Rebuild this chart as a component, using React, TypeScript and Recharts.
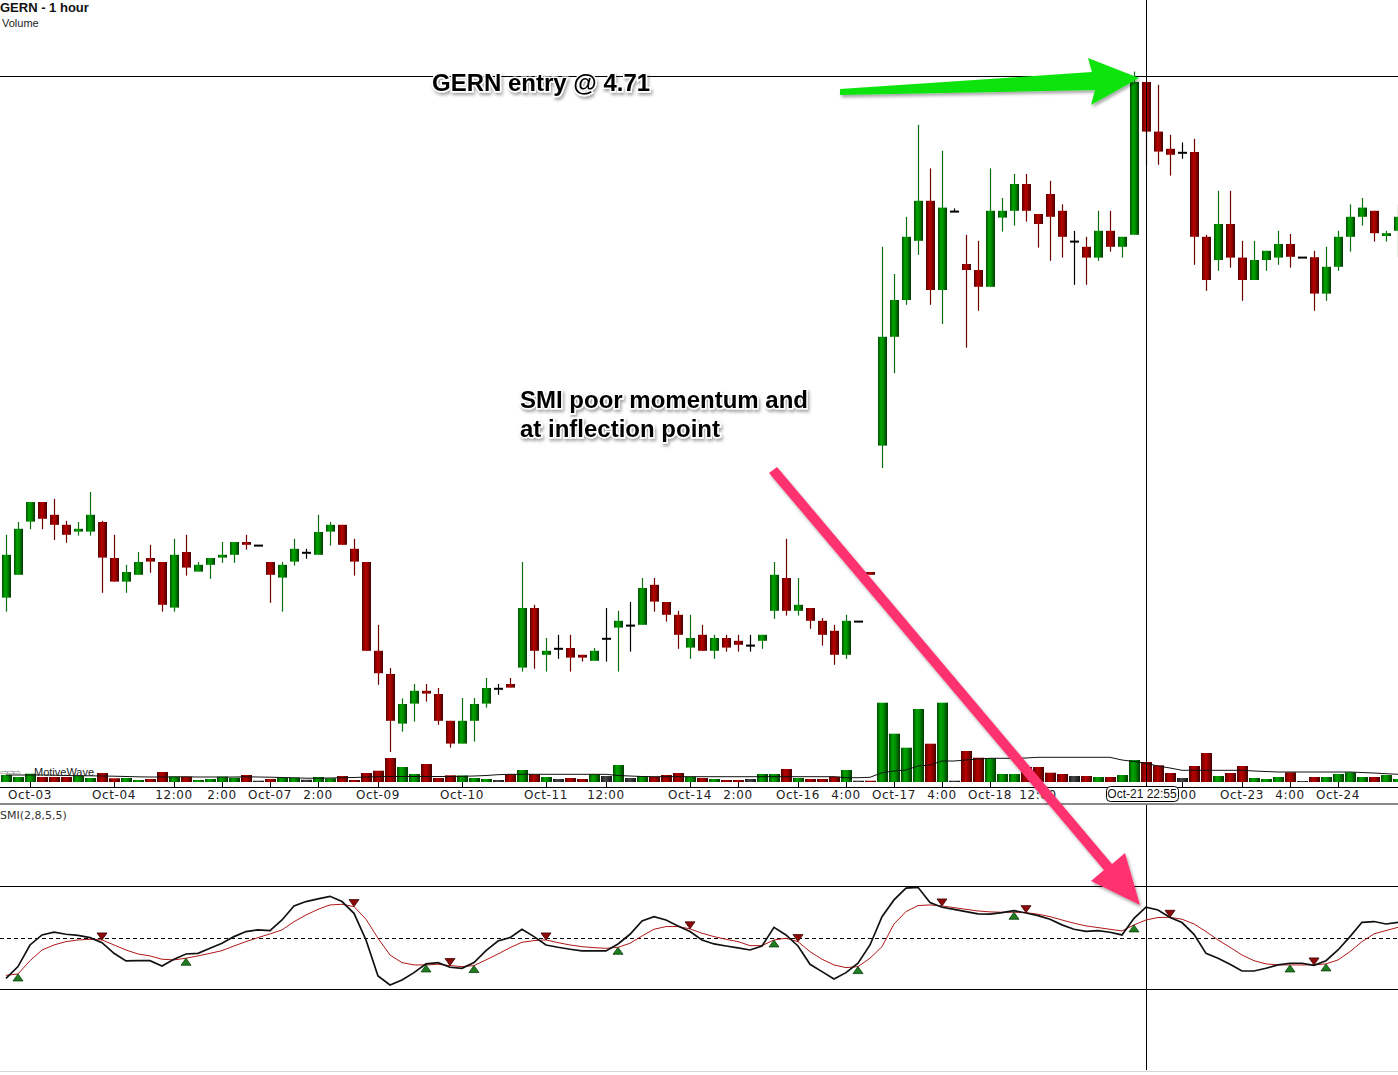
import { ComposedChart, Bar, Line, XAxis, YAxis, ReferenceLine, Cell } from 'recharts'

// hourly OHLC (price scale anchored on the 4.71 entry line)
const OPEN = [
  3.406, 3.463, 3.596, 3.645, 3.613, 3.588, 3.571, 3.571, 3.595, 3.505,
  3.446, 3.463, 3.505, 3.495, 3.381, 3.520, 3.471, 3.488, 3.506, 3.513,
  3.545, 3.536, 3.495, 3.456, 3.496, 3.518, 3.513, 3.571, 3.588, 3.528,
  3.495, 3.273, 3.215, 3.091, 3.141, 3.173, 3.165, 3.098, 3.041, 3.098,
  3.141, 3.178, 3.190, 3.231, 3.380, 3.263, 3.278, 3.280, 3.263, 3.248,
  3.303, 3.331, 3.336, 3.338, 3.438, 3.395, 3.363, 3.281, 3.313, 3.273,
  3.305, 3.298, 3.286, 3.298, 3.373, 3.455, 3.373, 3.380, 3.348, 3.323,
  3.263, 3.346, 3.470, 3.786, 4.058, 4.150, 4.298, 4.398, 4.175, 4.371,
  4.240, 4.225, 4.183, 4.356, 4.373, 4.440, 4.365, 4.415, 4.373, 4.296,
  4.283, 4.256, 4.323, 4.283, 4.313, 4.695, 4.571, 4.528, 4.518, 4.520,
  4.308, 4.250, 4.340, 4.256, 4.200, 4.250, 4.256, 4.290, 4.256, 4.257,
  4.166, 4.233, 4.308, 4.358, 4.373, 4.310, 4.323,
]
const HIGH = [
  3.563, 3.595, 3.645, 3.645, 3.653, 3.598, 3.595, 3.670, 3.598, 3.563,
  3.488, 3.520, 3.538, 3.495, 3.553, 3.563, 3.495, 3.505, 3.545, 3.545,
  3.563, 3.536, 3.495, 3.495, 3.553, 3.528, 3.613, 3.595, 3.588, 3.553,
  3.495, 3.338, 3.230, 3.154, 3.190, 3.190, 3.180, 3.098, 3.155, 3.155,
  3.205, 3.190, 3.205, 3.495, 3.388, 3.305, 3.313, 3.313, 3.263, 3.280,
  3.380, 3.373, 3.395, 3.455, 3.455, 3.395, 3.373, 3.363, 3.338, 3.313,
  3.313, 3.313, 3.313, 3.313, 3.495, 3.553, 3.455, 3.380, 3.355, 3.338,
  3.363, 3.346, 3.470, 4.283, 4.215, 4.358, 4.588, 4.479, 4.523, 4.379,
  4.313, 4.298, 4.479, 4.405, 4.465, 4.465, 4.365, 4.448, 4.389, 4.323,
  4.308, 4.373, 4.373, 4.308, 4.721, 4.695, 4.688, 4.563, 4.544, 4.553,
  4.313, 4.423, 4.423, 4.298, 4.298, 4.273, 4.323, 4.315, 4.256, 4.273,
  4.283, 4.323, 4.389, 4.405, 4.373, 4.323, 4.389,
]
const LOW = [
  3.371, 3.463, 3.577, 3.577, 3.550, 3.543, 3.561, 3.561, 3.418, 3.446,
  3.418, 3.463, 3.468, 3.371, 3.371, 3.461, 3.471, 3.453, 3.493, 3.493,
  3.526, 3.536, 3.393, 3.371, 3.486, 3.503, 3.513, 3.536, 3.538, 3.461,
  3.273, 3.188, 3.020, 3.071, 3.096, 3.146, 3.088, 3.031, 3.041, 3.046,
  3.131, 3.163, 3.181, 3.221, 3.228, 3.221, 3.253, 3.221, 3.246, 3.248,
  3.246, 3.221, 3.271, 3.338, 3.371, 3.346, 3.278, 3.253, 3.273, 3.253,
  3.271, 3.271, 3.271, 3.278, 3.353, 3.361, 3.361, 3.328, 3.286, 3.238,
  3.253, 3.346, 3.463, 3.730, 3.967, 4.138, 4.263, 4.138, 4.090, 4.371,
  4.031, 4.123, 4.183, 4.321, 4.336, 4.346, 4.281, 4.248, 4.256, 4.188,
  4.188, 4.248, 4.271, 4.256, 4.313, 4.488, 4.488, 4.461, 4.503, 4.238,
  4.173, 4.223, 4.231, 4.148, 4.200, 4.223, 4.238, 4.231, 4.256, 4.123,
  4.148, 4.223, 4.271, 4.336, 4.296, 4.296, 4.256,
]
const CLOSE = [
  3.513, 3.578, 3.645, 3.603, 3.588, 3.563, 3.578, 3.613, 3.506, 3.446,
  3.470, 3.495, 3.496, 3.388, 3.513, 3.481, 3.488, 3.505, 3.513, 3.545,
  3.538, 3.536, 3.463, 3.488, 3.528, 3.518, 3.570, 3.588, 3.538, 3.496,
  3.273, 3.217, 3.098, 3.140, 3.173, 3.166, 3.098, 3.041, 3.098, 3.140,
  3.180, 3.178, 3.181, 3.380, 3.273, 3.273, 3.278, 3.256, 3.256, 3.273,
  3.303, 3.348, 3.336, 3.430, 3.396, 3.363, 3.313, 3.305, 3.273, 3.305,
  3.281, 3.288, 3.286, 3.313, 3.463, 3.373, 3.388, 3.348, 3.313, 3.263,
  3.348, 3.346, 3.463, 4.058, 4.150, 4.308, 4.398, 4.175, 4.381, 4.371,
  4.225, 4.183, 4.373, 4.373, 4.440, 4.373, 4.340, 4.358, 4.308, 4.296,
  4.256, 4.323, 4.283, 4.308, 4.695, 4.571, 4.521, 4.513, 4.518, 4.308,
  4.200, 4.340, 4.256, 4.200, 4.250, 4.273, 4.290, 4.258, 4.256, 4.166,
  4.233, 4.308, 4.358, 4.381, 4.317, 4.317, 4.358,
]

// volume and its moving average, thousands of shares
const VOLUME = [
  140, 100, 166, 100, 100, 100, 126, 80, 180, 74,
  80, 40, 60, 200, 106, 106, 40, 60, 106, 86,
  140, 26, 60, 86, 86, 46, 100, 74, 120, 40,
  180, 226, 480, 300, 160, 360, 80, 134, 130, 80,
  60, 40, 154, 240, 154, 100, 60, 80, 60, 154,
  120, 340, 80, 120, 106, 140, 180, 106, 80, 60,
  40, 40, 60, 160, 160, 260, 80, 60, 60, 106,
  240, 26, 26, 1586, 966, 686, 1460, 766, 1586, 26,
  620, 486, 474, 160, 160, 300, 300, 186, 160, 120,
  120, 100, 100, 140, 440, 400, 334, 180, 80, 320,
  580, 120, 180, 320, 80, 60, 100, 194, 20, 100,
  100, 160, 194, 100, 100, 140, 60,
]
const VOL_MA = [
  140, 140, 140, 140, 136, 130, 126, 124, 120, 116,
  110, 104, 100, 100, 104, 104, 100, 100, 100, 100,
  104, 100, 96, 90, 84, 76, 76, 80, 86, 90,
  100, 106, 110, 110, 110, 110, 110, 110, 114, 120,
  130, 146, 154, 154, 154, 154, 154, 154, 154, 154,
  154, 130, 120, 110, 106, 106, 106, 106, 106, 106,
  106, 106, 106, 106, 106, 106, 106, 106, 106, 106,
  86, 86, 94, 186, 220, 240, 320, 340, 420, 420,
  440, 460, 474, 474, 474, 480, 494, 494, 494, 494,
  494, 494, 494, 440, 410, 374, 320, 280, 234, 234,
  234, 234, 234, 234, 220, 210, 200, 200, 200, 200,
  200, 200, 200, 190, 180, 166, 154,
]

// SMI(2,8,5,5) and its signal line
const SMI = [
  -31.1, -22.0, -5.2, 2.6, 4.7, 3.1, 2.3, 0.5, -3.4, -11.7,
  -17.6, -17.4, -17.4, -21.5, -16.3, -12.2, -11.7, -7.8, -3.9, 1.3,
  5.2, 6.5, 6.0, 14.2, 25.1, 28.5, 30.6, 32.6, 28.5, 19.4,
  -1.3, -29.3, -36.3, -32.4, -26.7, -19.9, -18.9, -22.5, -23.3, -18.9,
  -9.6, -2.1, 0.5, 7.0, 1.3, -5.2, -7.0, -8.5, -9.8, -9.8,
  -9.8, -4.4, 3.1, 13.5, 16.8, 14.2, 9.6, 5.2, -1.3, -4.4,
  -6.0, -7.5, -9.1, -6.0, 8.5, 2.6, -6.0, -20.2, -25.9, -31.6,
  -26.7, -19.4, -5.2, 16.8, 29.8, 38.9, 39.6, 27.7, 24.1, 22.5,
  20.7, 18.9, 18.7, 19.9, 21.5, 19.6, 17.6, 14.8, 10.4, 7.0,
  5.4, 6.0, 4.7, 2.6, 15.5, 24.1, 22.0, 16.1, 12.2, 3.1,
  -11.7, -15.5, -20.2, -25.4, -25.4, -23.3, -20.7, -19.4, -19.4, -21.0,
  -17.4, -9.1, 1.3, 12.4, 13.0, 11.1, 12.4,
]
const SIGNAL = [
  -28.8, -27.7, -17.4, -9.1, -5.2, -2.6, -1.3, -0.8, -1.3, -5.2,
  -9.1, -12.2, -13.7, -16.3, -16.8, -15.5, -13.7, -11.7, -9.6, -6.0,
  -2.6, 0.5, 3.4, 6.5, 12.9, 18.1, 22.5, 25.9, 26.4, 24.6,
  14.8, 0.0, -13.0, -18.9, -20.7, -20.7, -20.2, -21.2, -22.0, -21.2,
  -16.8, -12.2, -7.3, -3.1, -1.8, -1.3, -3.4, -5.2, -6.5, -7.3,
  -7.8, -7.0, -3.9, 1.8, 7.0, 9.1, 9.1, 7.3, 3.9, 1.3,
  -0.8, -2.6, -5.7, -5.7, -1.3, 0.0, -2.6, -10.4, -16.3, -20.7,
  -22.8, -22.0, -15.5, -6.5, 11.1, 20.7, 25.4, 25.9, 25.1, 23.8,
  22.5, 21.2, 20.5, 20.2, 20.2, 19.9, 18.7, 16.8, 14.2, 11.7,
  9.6, 8.3, 7.0, 5.7, 10.4, 14.2, 16.1, 16.3, 14.8, 11.1,
  5.2, -1.3, -7.0, -13.0, -17.4, -19.9, -20.7, -20.7, -20.7, -20.7,
  -19.9, -16.8, -10.4, -2.6, 3.4, 6.0, 8.5,
]
const UP_CROSS = [1, 15, 35, 39, 51, 64, 71, 84, 94, 107, 110]
const DOWN_CROSS = [8, 29, 37, 45, 57, 66, 78, 85, 97, 109]

const TICK_IDX = [2, 9, 14, 18, 22, 26, 31, 38, 45, 50, 57, 61, 66, 70, 74, 78, 82, 86, 98, 103, 107, 111]
const TICK_LABELS = [
  'Oct-03', 'Oct-04', '12:00', '2:00', 'Oct-07', '2:00', 'Oct-09', 'Oct-10', 'Oct-11', '12:00', 'Oct-14',
  '2:00', 'Oct-16', '4:00', 'Oct-17', '4:00', 'Oct-18', '12:00', '4:00', 'Oct-23', '4:00', 'Oct-24',
]

const ENTRY_PRICE = 4.71
const CURSOR_IDX = 95
const PRICE_DOMAIN: [number, number] = [2.9325, 4.9]
const VOL_DOMAIN: [number, number] = [-100, 15640]
const SMI_DOMAIN: [number, number] = [-102.3, 103.5]

const W = 1404
const NO_MARGIN = { top: 0, right: 0, bottom: 0, left: 0 }

const rows = OPEN.map((open, i) => ({
  i,
  open,
  high: HIGH[i],
  low: LOW[i],
  close: CLOSE[i],
  range: [LOW[i], HIGH[i]],
  vol: VOLUME[i],
  volMA: VOL_MA[i],
  smi: SMI[i],
  sig: SIGNAL[i],
  upMk: UP_CROSS.includes(i) ? SIGNAL[i] : null,
  dnMk: DOWN_CROSS.includes(i) ? SIGNAL[i] : null,
}))

function direction(r: { open: number; close: number }) {
  if (r.close > r.open) return 'up'
  if (r.close < r.open) return 'down'
  return 'flat'
}

function renderCandle(props: any) {
  const { x, y, width, height, payload, index } = props
  if (x == null || y == null) return <g key={index} />
  const { open, close, high, low } = payload
  const cx = x + width / 2
  const top = Math.min(y, y + height)
  const h = Math.abs(height)
  const span = high - low
  const py = (v: number) => (span > 0 ? top + ((high - v) / span) * h : top)
  const dir = direction(payload)
  if (dir === 'flat') {
    return (
      <g key={index}>
        <line x1={cx} x2={cx} y1={py(high)} y2={py(low)} stroke="#000" strokeWidth={1.2} />
        <rect x={cx - 4.5} y={py(open) - 1} width={9} height={2} fill="#000" />
      </g>
    )
  }
  const bt = py(Math.max(open, close))
  const bb = py(Math.min(open, close))
  const up = dir === 'up'
  return (
    <g key={index}>
      <line x1={cx} x2={cx} y1={py(high)} y2={py(low)} stroke={up ? '#0a6e0a' : '#6e0000'} strokeWidth={1.2} />
      <rect x={cx - 4.5} y={bt} width={9} height={Math.max(bb - bt, 2)} fill={up ? 'url(#gUp)' : 'url(#gDown)'} />
    </g>
  )
}

function renderTick(props: any) {
  const { x, y, payload } = props
  const label = TICK_LABELS[TICK_IDX.indexOf(payload.value)]
  return (
    <g>
      <line x1={x} x2={x} y1={y - 5} y2={y} stroke="#000" shapeRendering="crispEdges" />
      <text x={x} y={y + 11.5} textAnchor="middle" fontSize={12} fontFamily="DejaVu Sans" letterSpacing={0.6} fill="#222">
        {label}
      </text>
    </g>
  )
}

function renderUp(p: any) {
  const { cx, cy, index } = p
  if (cx == null || cy == null || Number.isNaN(cy)) return <g key={`u${index}`} />
  return (
    <path key={`u${index}`} d={`M${cx},${cy} L${cx + 5},${cy + 7} L${cx - 5},${cy + 7} Z`}
      fill="#1e7d1e" stroke="#0b3b0b" strokeWidth={0.8} />
  )
}

function renderDown(p: any) {
  const { cx, cy, index } = p
  if (cx == null || cy == null || Number.isNaN(cy)) return <g key={`d${index}`} />
  return (
    <path key={`d${index}`} d={`M${cx},${cy} L${cx + 5},${cy - 7} L${cx - 5},${cy - 7} Z`}
      fill="#8e0a0a" stroke="#3a0000" strokeWidth={0.8} />
  )
}

const VOL_FILL: Record<string, string> = { up: 'url(#gUp)', down: 'url(#gDown)', flat: 'url(#gFlat)' }

export default function App() {
  return (
    <div style={{ position: 'fixed', left: 0, top: 0, width: 1398, height: 1075, overflow: 'hidden', background: '#fff' }}>
      <svg width={0} height={0} style={{ position: 'absolute' }}>
        <defs>
          <linearGradient id="gUp" x1="0" x2="1" y1="0" y2="0">
            <stop offset="0" stopColor="#004f00" />
            <stop offset="0.35" stopColor="#00a800" />
            <stop offset="0.6" stopColor="#008a00" />
            <stop offset="1" stopColor="#003800" />
          </linearGradient>
          <linearGradient id="gDown" x1="0" x2="1" y1="0" y2="0">
            <stop offset="0" stopColor="#5a0000" />
            <stop offset="0.4" stopColor="#b80000" />
            <stop offset="0.65" stopColor="#980000" />
            <stop offset="1" stopColor="#420000" />
          </linearGradient>
          <linearGradient id="gFlat" x1="0" x2="1" y1="0" y2="0">
            <stop offset="0" stopColor="#1a1a1a" />
            <stop offset="0.4" stopColor="#4a4a4a" />
            <stop offset="1" stopColor="#141414" />
          </linearGradient>
        </defs>
      </svg>

      {/* volume pane, sits under the candles */}
      <div style={{ position: 'absolute', left: 0, top: 0 }}>
        <ComposedChart width={W} height={787} data={rows} margin={NO_MARGIN}>
          <XAxis dataKey="i" hide />
          <YAxis hide domain={VOL_DOMAIN} allowDataOverflow />
          <Bar dataKey="vol" barSize={11} isAnimationActive={false}>
            {rows.map((r) => (
              <Cell key={r.i} fill={VOL_FILL[direction(r)]} />
            ))}
          </Bar>
          <Line dataKey="volMA" type="linear" stroke="#111" strokeWidth={1} dot={false} activeDot={false} isAnimationActive={false} />
        </ComposedChart>
      </div>

      {/* price pane with time axis */}
      <div style={{ position: 'absolute', left: 0, top: 0 }}>
        <ComposedChart width={W} height={804} data={rows} margin={NO_MARGIN}>
          <XAxis dataKey="i" ticks={TICK_IDX} interval={0} tick={renderTick} tickLine={false}
            tickSize={0} tickMargin={0} height={17} axisLine={{ stroke: '#000', shapeRendering: 'crispEdges' }} />
          <YAxis hide domain={PRICE_DOMAIN} allowDataOverflow />
          <Bar dataKey="range" barSize={9} shape={renderCandle} isAnimationActive={false} />
          <ReferenceLine y={ENTRY_PRICE} stroke="#000" strokeWidth={1} shapeRendering="crispEdges" />
          <ReferenceLine x={CURSOR_IDX} stroke="#000" strokeWidth={1} shapeRendering="crispEdges" />
        </ComposedChart>
      </div>

      <div style={{ position: 'absolute', left: 0, top: 803, width: 1398, height: 2, background: '#8a8a8a' }} />

      {/* SMI pane */}
      <div style={{ position: 'absolute', left: 0, top: 805 }}>
        <ComposedChart width={W} height={265} data={rows} margin={NO_MARGIN}>
          <XAxis dataKey="i" hide scale="band" />
          <YAxis hide domain={SMI_DOMAIN} allowDataOverflow />
          <ReferenceLine y={40} stroke="#000" shapeRendering="crispEdges" />
          <ReferenceLine y={-40} stroke="#000" shapeRendering="crispEdges" />
          <ReferenceLine y={0} stroke="#000" strokeDasharray="4 3" shapeRendering="crispEdges" />
          <ReferenceLine x={CURSOR_IDX} stroke="#000" shapeRendering="crispEdges" />
          <Line dataKey="sig" type="linear" stroke="#b01818" strokeWidth={1} dot={false} activeDot={false} isAnimationActive={false} />
          <Line dataKey="smi" type="linear" stroke="#111" strokeWidth={1.7} dot={false} activeDot={false} isAnimationActive={false} />
          <Line dataKey="upMk" stroke="none" dot={renderUp} activeDot={false} isAnimationActive={false} />
          <Line dataKey="dnMk" stroke="none" dot={renderDown} activeDot={false} isAnimationActive={false} />
        </ComposedChart>
      </div>

      <div style={{ position: 'absolute', left: 0, top: 1071, width: 1398, height: 1, background: '#d8d8d8' }} />

      {/* annotations */}
      <svg width={1398} height={1075} style={{ position: 'absolute', left: 0, top: 0, pointerEvents: 'none' }}>
        <defs>
          <filter id="soft" x="-10%" y="-20%" width="130%" height="160%">
            <feDropShadow dx="1.5" dy="2.5" stdDeviation="1.5" floodColor="#000" floodOpacity="0.35" />
          </filter>
        </defs>
        <text x={0} y={12} fontFamily="Liberation Sans" fontWeight="bold" fontSize={13} fill="#111">GERN - 1 hour</text>
        <text x={2} y={27} fontFamily="Liberation Sans" fontSize={11} fill="#222">Volume</text>
        <text x={0} y={819} fontFamily="DejaVu Sans" fontSize={11} fill="#333">SMI(2,8,5,5)</text>
        <text x={0} y={776} fontFamily="DejaVu Sans" fontSize={10} fill="#8a8a8a" letterSpacing={-2}>⇨⇨⇨</text>
        <text x={34} y={776} fontFamily="Liberation Sans" fontSize={11} fill="#222">MotiveWave</text>

        <g>
          <rect x={1106.5} y={786.5} width={72} height={15} rx={4} fill="#fff" stroke="#000" />
          <text x={1142} y={798} textAnchor="middle" fontFamily="Liberation Sans" fontSize={12} fill="#111">Oct-21 22:55</text>
        </g>

        <g filter="url(#soft)" fontFamily="Liberation Sans" fontWeight="bold" fontSize={24}>
          <text x={432} y={91} fill="#000" stroke="#fff" strokeWidth={3} paintOrder="stroke">GERN entry @ 4.71</text>
          <text x={520} y={408} fill="#000" stroke="#fff" strokeWidth={3} paintOrder="stroke">SMI poor momentum and</text>
          <text x={520} y={437} fill="#000" stroke="#fff" strokeWidth={3} paintOrder="stroke">at inflection point</text>
        </g>

        <polygon filter="url(#soft)" fill="#0de30d"
          points="840,89 1092,72 1088,58 1139,78 1091,105 1095,90 840,95" />
        <polygon filter="url(#soft)" fill="#ff3370"
          points="769,473 1104,870 1091,881 1140,905 1125,853 1112,864 777,467" />
      </svg>
    </div>
  )
}
